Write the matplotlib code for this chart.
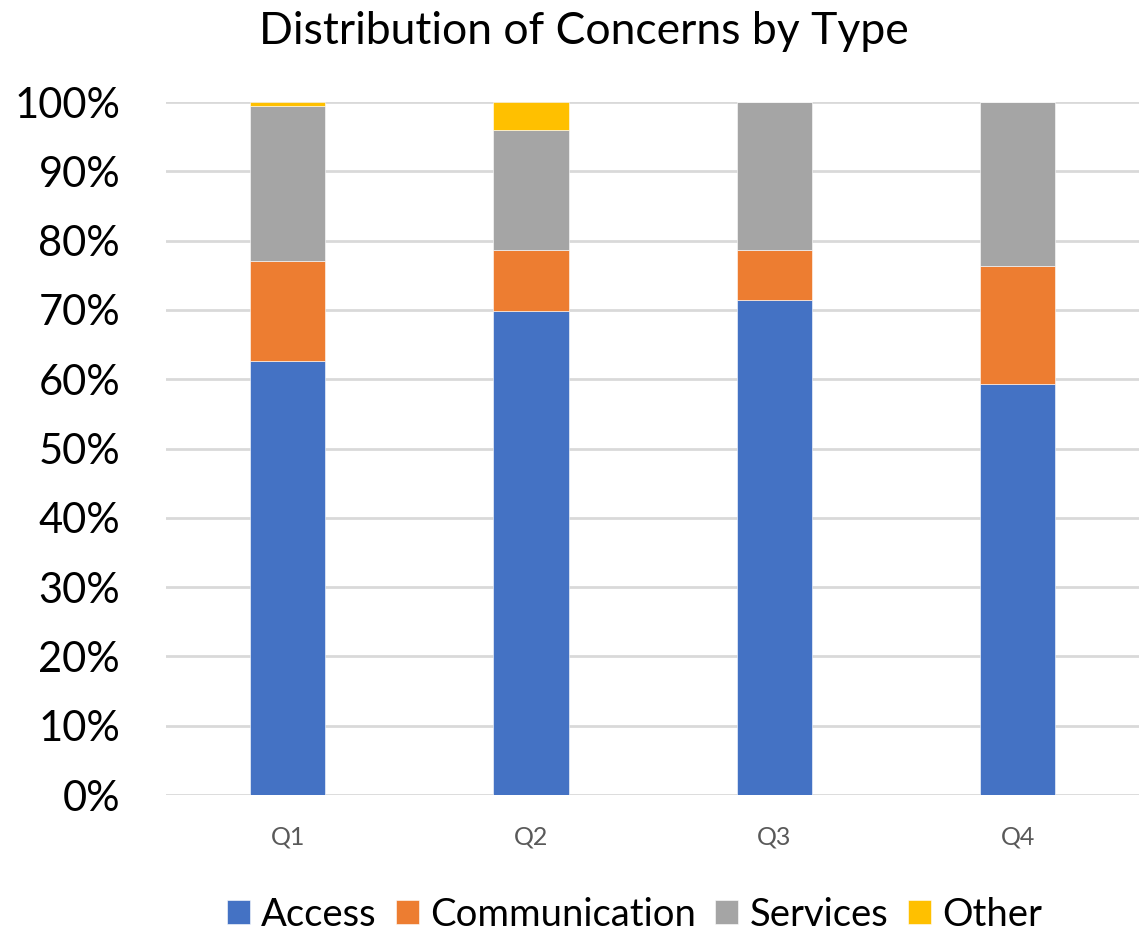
import matplotlib
matplotlib.use("Agg")
import matplotlib.pyplot as plt
import numpy as np

quarters = ["Q1", "Q2", "Q3", "Q4"]
access = [62.6, 69.9, 71.4, 59.3]
communication = [14.4, 8.8, 7.2, 17.0]
services = [22.4, 17.2, 21.4, 23.7]
other = [0.6, 4.1, 0.0, 0.0]

series = [
    ("Access", access, "#4472C4"),
    ("Communication", communication, "#ED7D31"),
    ("Services", services, "#A5A5A5"),
    ("Other", other, "#FFC000"),
]

plt.rcParams["font.family"] = ["Lato", "DejaVu Sans"]

fig = plt.figure(figsize=(11.41, 9.36), dpi=100)
ax = fig.add_axes([0.1455, 0.1506, 0.853, 0.7404])

x = np.arange(len(quarters))
bottom = np.zeros(len(quarters))
for name, vals, color in series:
    vals = np.array(vals)
    ax.bar(x, vals, width=0.31, bottom=bottom, color=color, label=name,
           edgecolor="white", linewidth=0.4, zorder=3)
    bottom += vals

ax.set_xlim(-0.5, 3.5)
ax.set_ylim(0, 100)
ax.set_yticks(np.arange(0, 101, 10))
ax.set_yticklabels([f"{v}%" for v in range(0, 101, 10)], fontsize=30, color="black")
ax.set_xticks(x)
ax.set_xticklabels(quarters, fontsize=18, color="#595959")
ax.tick_params(axis="y", length=0, pad=33)
ax.tick_params(axis="x", length=0, pad=22)
ax.grid(axis="y", color="#D9D9D9", linewidth=2, zorder=0)
for spine in ax.spines.values():
    spine.set_visible(False)

fig.text(0.512, 0.966, "Distribution of Concerns by Type", ha="center", va="center",
         fontsize=32)

fig.legend(loc="lower center", bbox_to_anchor=(0.556, -0.033), ncol=4, frameon=False,
           fontsize=27.5, handlelength=0.6, handleheight=0.6, handletextpad=0.3,
           columnspacing=0.5)

fig.savefig("out.png", dpi=100)
